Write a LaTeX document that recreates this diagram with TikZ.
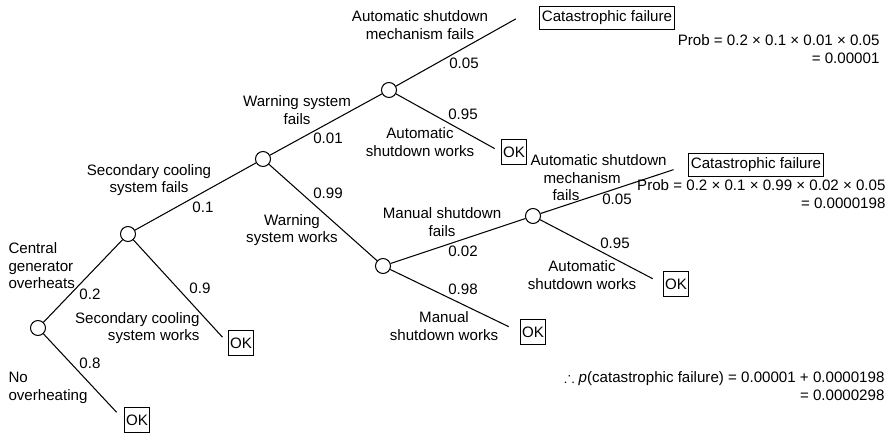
\documentclass[tikz,border=0pt]{standalone}
\usepackage{fontspec}
\usepackage{amssymb}
\setmainfont{Liberation Sans}
\begin{document}
\begin{tikzpicture}[x=0.02cm, y=-0.02cm, line width=.6pt,
  font=\fontsize{8.6}{10}\selectfont,
  event/.style={circle, draw, fill=white, minimum size=.3cm, inner sep=0pt},
  outcome/.style={draw, inner xsep=1.5pt, inner ysep=2.5pt},
  okbox/.style={draw, inner xsep=1pt, minimum height=14pt},
  lab/.style={align=center, inner sep=0pt}]
\useasboundingbox (0,0) rectangle (890,435);

% chance nodes
\node[event] (c0) at (38,328) {};
\node[event] (c1) at (128,234) {};
\node[event] (c2) at (263,159) {};
\node[event] (c3) at (389,90) {};
\node[event] (c4) at (383,266) {};
\node[event] (c5) at (533,216) {};

% end results
\node[outcome] (cat1) at (607,18) {Catastrophic failure};
\node[outcome] (cat2) at (756,165) {Catastrophic failure};
\node[okbox] (ok0) at (137,420) {OK};
\node[okbox] (ok1) at (241,343) {OK};
\node[okbox] (ok3) at (514,152) {OK};
\node[okbox] (ok4) at (533,332) {OK};
\node[okbox] (ok5) at (676,284) {OK};

% branches
\draw (c0)--(c1);
\draw[shorten >=6pt] (c0)--(ok0.west);
\draw (c1)--(c2);
\draw[shorten >=4.5pt] (c1)--(ok1.west);
\draw (c2)--(c3);
\draw (c2)--(c4);
\draw[shorten >=15pt] (c3)--(cat1.north west);
\draw[shorten >=4pt] (c3)--(ok3.west);
\draw (c4)--(c5);
\draw[shorten >=7pt] (c4)--(ok4.west);
\draw[shorten >=8.5pt] (c5)--(cat2.west);
\draw[shorten >=6.5pt] (c5)--(ok5.west);

% events
\node[lab, align=left, anchor=west] (lgen) at (8,266) {Central\\generator\\overheats};
\node[lab, align=left, anchor=west] (lnone) at (8,388) {No\\overheating};
\node[lab, align=right, anchor=east] (lscw) at (200,328) {Secondary cooling\\system works};
\node[lab] (lscf) at (149,180) {Secondary cooling\\system fails};
\node[lab] (lwsf) at (297,110) {Warning system\\fails};
\node[lab] (lwsw) at (292,230) {Warning\\system works};
\node[lab] (lasf) at (420,25) {Automatic shutdown\\mechanism fails};
\node[lab] (lasw) at (420,142) {Automatic\\shutdown works};
\node[lab] (lmsf) at (442,222) {Manual shutdown\\fails};
\node[lab] (lmsw) at (444,326) {Manual\\shutdown works};
\node[lab, align=left, anchor=west] (lasf2) at (530,178)
  {Automatic shutdown\\\hspace*{.26cm}mechanism\\\hspace*{.44cm}fails};
\node[lab] (lasw2) at (582,275) {Automatic\\shutdown works};

% probabilities
\node (p02) at (90,294) {0.2};
\node (p08) at (90,363) {0.8};
\node (p01) at (203,207) {0.1};
\node (p09) at (200,288) {0.9};
\node (p001) at (328,138) {0.01};
\node (p099) at (328,193) {0.99};
\node (p005a) at (464,63) {0.05};
\node (p095a) at (463,114) {0.95};
\node (p002) at (463,251) {0.02};
\node (p098) at (463,289) {0.98};
\node (p005b) at (617,199) {0.05};
\node (p095b) at (615,243) {0.95};

% results
\node[lab, align=right, anchor=east] (prob1) at (880,49)
  {Prob = 0.2 × 0.1 × 0.01 × 0.05\\= 0.00001};
\node[lab, align=right, anchor=east] (prob2) at (886,194)
  {Prob = 0.2 × 0.1 × 0.99 × 0.02 × 0.05\\= 0.0000198};
\node[lab, align=right, anchor=east] (total) at (885,386)
  {$\therefore$ \textit{p}(catastrophic failure) = 0.00001 + 0.0000198\\= 0.0000298};
\end{tikzpicture}
\end{document}
